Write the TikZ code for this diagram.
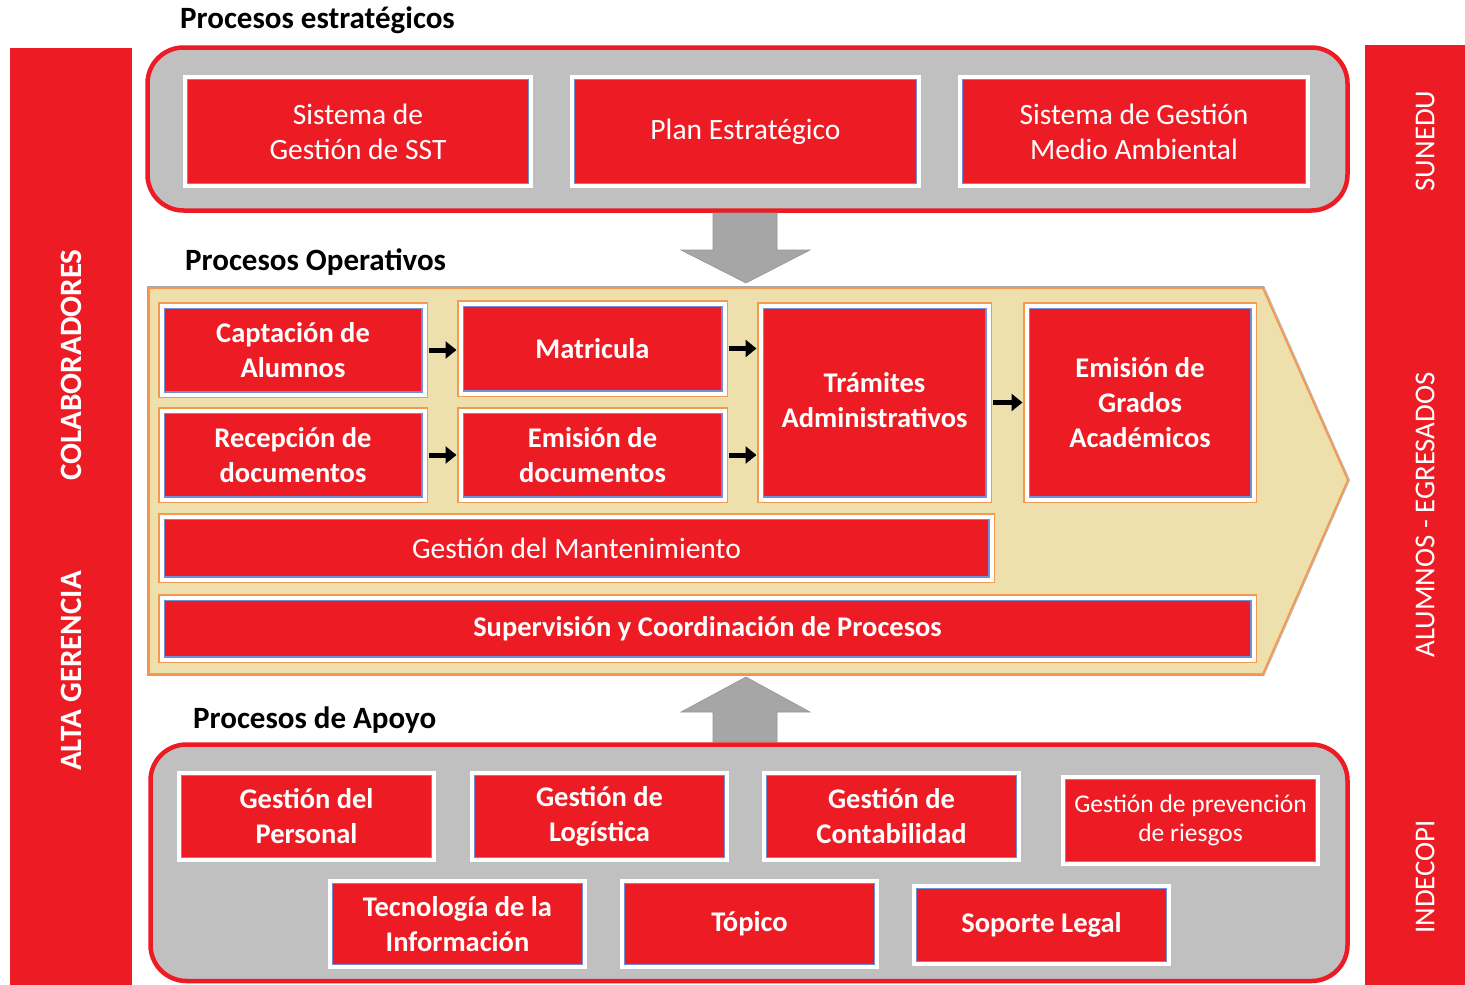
\documentclass[tikz,border=0pt]{standalone}
\usepackage{fontspec}
\setmainfont{Carlito}
\usetikzlibrary{arrows.meta}
\definecolor{myred}{HTML}{ED1C24}
\definecolor{mygray}{HTML}{C0C0C0}
\definecolor{arrgray}{HTML}{A6A6A6}
\definecolor{beige}{HTML}{EEE0AD}
\definecolor{myorange}{HTML}{F39A50}
\definecolor{myblue}{HTML}{6F8FD6}
\begin{document}
\begin{tikzpicture}[x=1pt,y=-1pt,
  redbox/.style={fill=myred, draw=white, line width=4pt, inner sep=0pt, align=center, text=white,
    path picture={\draw[myblue, line width=1.2pt] ([shift={(2.6pt,2.6pt)}]path picture bounding box.south west) rectangle ([shift={(-2.6pt,-2.6pt)}]path picture bounding box.north east);}},
  opbox/.style={redbox, preaction={draw=myorange, line width=7pt}},
  bfont/.style={font=\bfseries\fontsize{28.5}{35}\selectfont},
  rfont/.style={font=\fontsize{29.5}{35}\selectfont},
  sfont/.style={font=\fontsize{25.5}{29}\selectfont},
  lbfont/.style={font=\bfseries\fontsize{31}{35}\selectfont},
  rbfont/.style={font=\fontsize{28.8}{35}\selectfont},
  title/.style={font=\bfseries\fontsize{31}{36}\selectfont, text=black, anchor=west, inner sep=0pt},
  bar/.style={fill=myred, draw=none},
  bartext/.style={rotate=90, text=white, inner sep=0pt},
  conn/.style={line width=5pt, black, -{Triangle[length=11pt,width=17pt]}, shorten <=2pt, shorten >=2pt},
  bigarrow/.style={fill=arrgray, draw=arrgray!90!black, line width=0.6pt},
  roundbox/.style={fill=mygray, draw=myred, line width=4.5pt, rounded corners=36pt}
]
\useasboundingbox (0,0) rectangle (1465,985);
\fill[white] (0,0) rectangle (1465,985);

% side bars
\fill[bar] (10,48) rectangle (132,985);
\fill[bar] (1365,45) rectangle (1465,985);
\node[bartext, lbfont] (colab) at (71,365) {COLABORADORES};
\node[bartext, lbfont] (alta) at (71,671) {ALTA GERENCIA};
\node[bartext, rbfont] (sunedu) at (1425,141) {SUNEDU};
\node[bartext, rbfont] (alum) at (1425,515) {ALUMNOS - EGRESADOS};
\node[bartext, rbfont] (indec) at (1425,877) {INDECOPI};

% titles
\node[title] (t1) at (180,20) {Procesos estratégicos};
\node[title] (t2) at (185,262) {Procesos Operativos};
\node[title] (t3) at (193,720) {Procesos de Apoyo};

% strategic container
\draw[roundbox] (147.5,47.5) rectangle (1347.5,210.5);
\node[redbox, rfont, minimum width=346pt, minimum height=109pt] (sst) at (358,131.5) {Sistema de\\Gestión de SST};
\node[redbox, rfont, minimum width=347pt, minimum height=109pt] (plan) at (745.5,131.5) {Plan Estratégico};
\node[redbox, rfont, minimum width=348pt, minimum height=109pt] (sgma) at (1134,131.5) {Sistema de Gestión\\Medio Ambiental};

% down arrow
\draw[bigarrow] (713,213) -- (777,213) -- (777,250) -- (810,250) -- (746,283) -- (681,250) -- (713,250) -- cycle;

% operative chevron
\draw[fill=beige, draw=myorange, line width=2pt] (149,288) -- (1263,288) -- (1348,480) -- (1263,674) -- (149,674) -- cycle;
\draw[draw=gray!70, line width=0.6pt] (147.5,286.5) -- (1264,286.5) -- (1349.5,480) -- (1264,675.5) -- (147.5,675.5) -- cycle;

\node[opbox, bfont, minimum width=263pt, minimum height=89pt] (cap) at (293,350) {Captación de\\Alumnos};
\node[opbox, bfont, minimum width=264pt, minimum height=90pt] (mat) at (592.5,348.5) {Matricula};
\node[opbox, bfont, minimum width=263pt, minimum height=89pt] (rec) at (293,455) {Recepción de\\documentos};
\node[opbox, bfont, minimum width=264pt, minimum height=89pt] (emi) at (592.5,455) {Emisión de\\documentos};
\node[opbox, bfont, minimum width=228pt, minimum height=194pt] (tra) at (874.5,402.5) {\raisebox{8pt}{\begin{tabular}{@{}c@{}}Trámites\\Administrativos\end{tabular}}};
\node[opbox, bfont, minimum width=227pt, minimum height=194pt] (gra) at (1140,402.5) {Emisión de\\Grados\\Académicos};
\node[opbox, rfont, minimum width=830pt, minimum height=63pt] (man) at (576.5,548) {Gestión del Mantenimiento};
\node[opbox, bfont, minimum width=1092pt, minimum height=62pt] (sup) at (707.5,628.5) {Supervisión y Coordinación de Procesos};

\draw[conn] (cap.east) -- (cap.east -| mat.west);
\draw[conn] (rec.east) -- (rec.east -| emi.west);
\draw[conn] (mat.east) -- (mat.east -| tra.west);
\draw[conn] (emi.east) -- (emi.east -| tra.west);
\draw[conn] (tra.east) -- (gra.west);

% up arrow
\draw[bigarrow] (713,742) -- (777,742) -- (777,712) -- (810,712) -- (746,677) -- (681,712) -- (713,712) -- cycle;

% support container
\draw[roundbox] (150.5,744.5) rectangle (1347.5,981);
\node[redbox, bfont, minimum width=255pt, minimum height=87pt] (per) at (306.5,816.5) {Gestión del\\Personal};
\node[redbox, bfont, minimum width=255pt, minimum height=87pt] (log) at (599.5,816.5) {Gestión de\\Logística};
\node[redbox, bfont, minimum width=255pt, minimum height=87pt] (con) at (891.5,816.5) {Gestión de\\Contabilidad};
\node[redbox, sfont, minimum width=255pt, minimum height=87pt] (pre) at (1190.5,820.5) {Gestión de prevención\\de riesgos};
\node[redbox, bfont, minimum width=255pt, minimum height=86pt] (tec) at (457.5,924) {Tecnología de la\\Información};
\node[redbox, bfont, minimum width=255pt, minimum height=86pt] (top) at (749.5,924) {Tópico};
\node[redbox, bfont, minimum width=255pt, minimum height=78pt] (leg) at (1041.5,925) {Soporte Legal};
\end{tikzpicture}
\end{document}
